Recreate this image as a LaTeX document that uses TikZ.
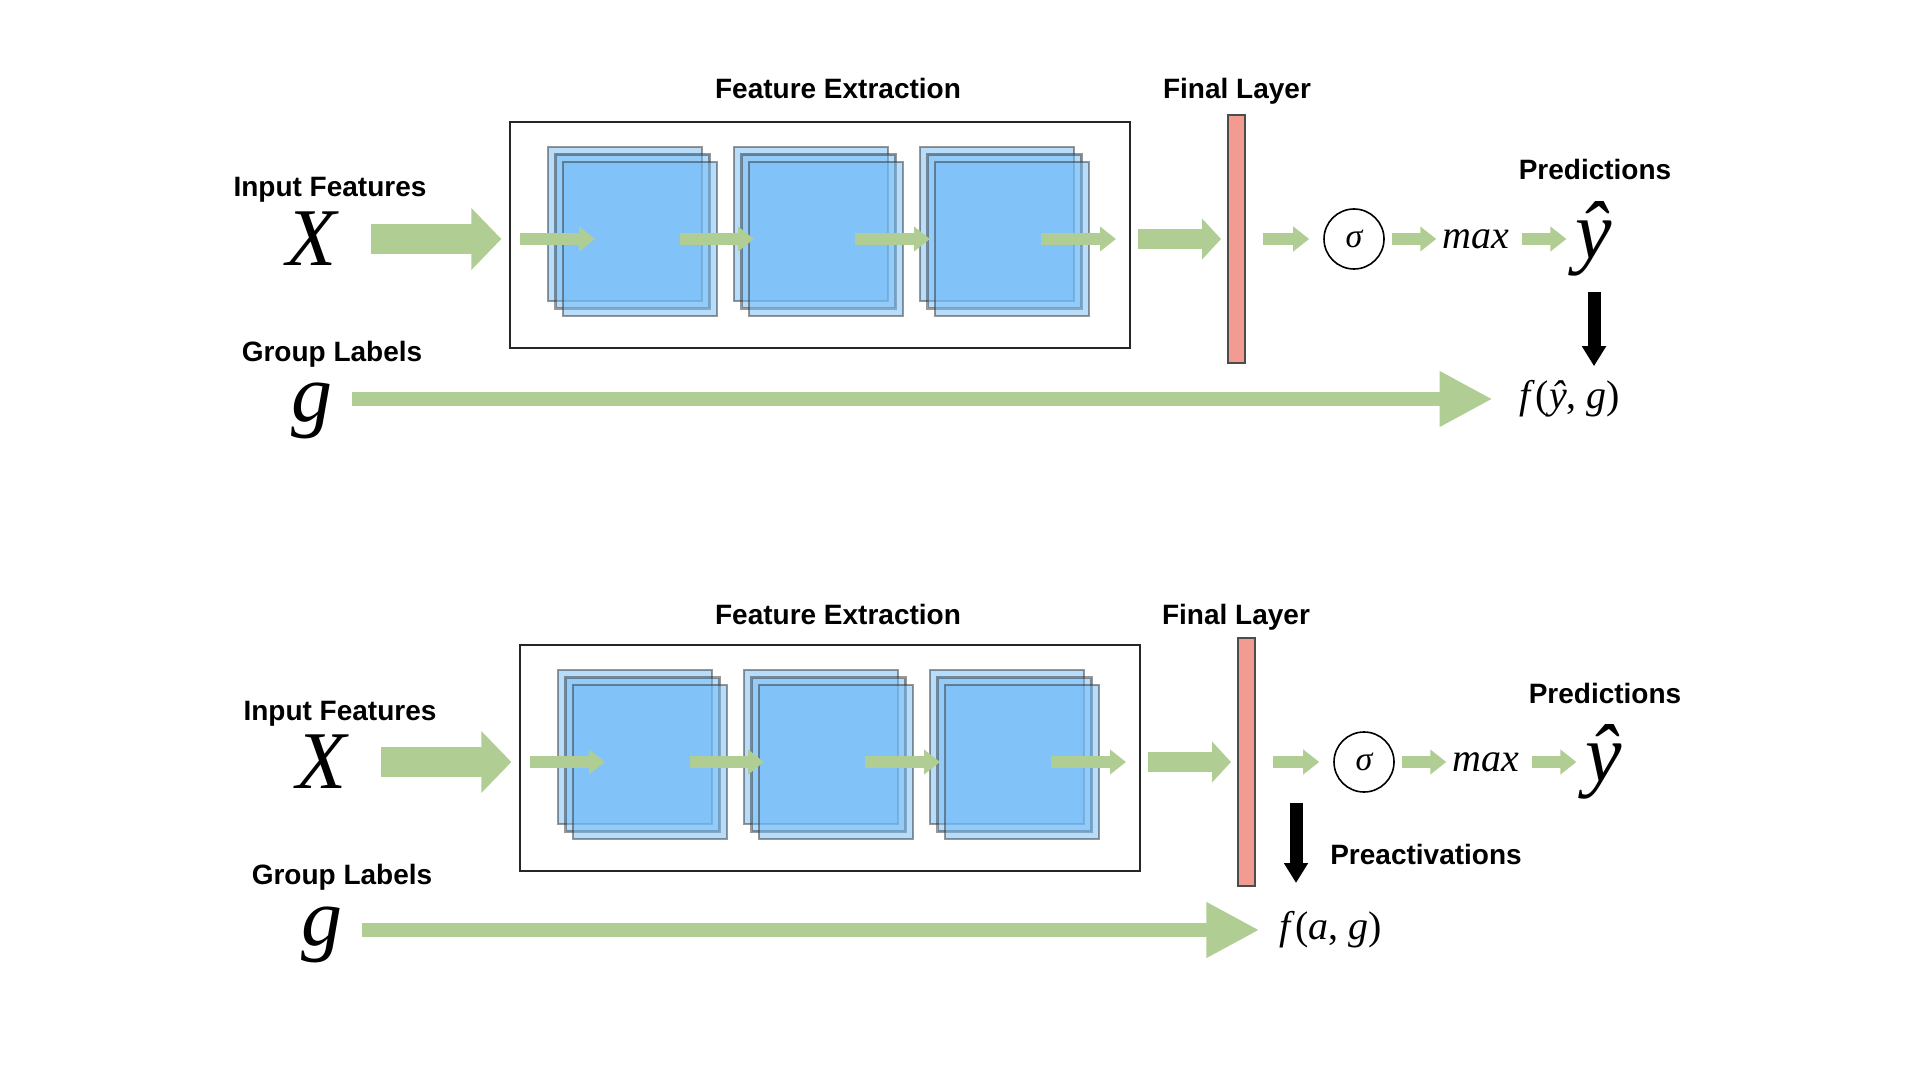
\documentclass[tikz,border=0pt]{standalone}
\usepackage{fontspec}
\setmainfont{Liberation Sans}
\newfontfamily\timesfont{Liberation Serif}
\usetikzlibrary{arrows.meta}

\definecolor{arrowgreen}{RGB}{176,206,148}
\definecolor{mapblue}{RGB}{111,187,247}
\definecolor{layerred}{RGB}{241,155,145}

\begin{document}
\begin{tikzpicture}[x=0.5pt, y=-0.5pt]
    \tikzstyle{heading}=[font=\bfseries\fontsize{14}{16}\selectfont, anchor=base]
    \tikzstyle{bigmath}=[font=\timesfont\itshape\fontsize{41}{45}\selectfont, inner sep=0pt]
    \tikzstyle{math}=[font=\timesfont\fontsize{20}{24}\selectfont, inner sep=0pt]
    \tikzstyle{fbox}=[draw=black!85, line width=0.6pt, minimum width=310pt, minimum height=113pt]
    \tikzstyle{fmap}=[draw=black!80, fill=mapblue, opacity=0.5, line width=1.2pt, minimum size=77pt, inner sep=0pt]
    \tikzstyle{layer}=[draw=black!70, fill=layerred, line width=1pt, minimum width=8.5pt, minimum height=124pt, inner sep=0pt]
    \tikzstyle{sigmanode}=[circle, draw, line width=0.8pt, minimum size=30pt, inner sep=0pt, font=\timesfont\itshape\fontsize{17}{20}\selectfont]
    \tikzstyle{smallarrow}=[arrowgreen, line width=6pt, -{Triangle[length=8pt,width=12pt]}]
    \tikzstyle{inarrow}=[arrowgreen, line width=15pt, -{Triangle[length=15pt,width=30pt]}]
    \tikzstyle{midarrow}=[arrowgreen, line width=10pt, -{Triangle[length=9.5pt,width=20pt]}]
    \tikzstyle{longarrow}=[arrowgreen, line width=7pt, -{Triangle[length=26.5pt,width=26pt]}]
    \tikzstyle{blackarrow}=[black, line width=6.5pt, -{Triangle[length=10pt,width=11.5pt]}]

    \useasboundingbox (0,0) rectangle (1920,1080);

    % top: loss on predictions
    \node[heading] (fetitle) at (838,99) {Feature Extraction};
    \node[fbox] (fe) at (820,235) {};
    \node[fmap] (s1a) at (625,224) {};
    \node[fmap] (s1b) at (632.5,231.5) {};
    \node[fmap] (s1c) at (640,239) {};
    \node[fmap] (s2a) at (811,224) {};
    \node[fmap] (s2b) at (818.5,231.5) {};
    \node[fmap] (s2c) at (826,239) {};
    \node[fmap] (s3a) at (997,224) {};
    \node[fmap] (s3b) at (1004.5,231.5) {};
    \node[fmap] (s3c) at (1012,239) {};

    \node[heading] (inF) at (330,197) {Input Features};
    \node[bigmath] (X) at (312,239) {X};
    \node[heading] (grpL) at (332,362) {Group Labels};
    \node[bigmath] (g) at (312,411) {g};

    \node[heading] (finL) at (1237,99) {Final Layer};
    \node[layer] (bar) at (1236.5,239) {};
    \node[sigmanode] (sig) at (1354,239) {σ};
    \node[math, right of=sig, node distance=61pt] (max) {\textit{max}};
    \node[bigmath, right of=max, node distance=59pt] (yhat) {ŷ};
    \node[heading] (pred) at (1595,180) {Predictions};
    \node[math] (fout) at (1570,399) {\textit{f}(\textit{ŷ}, \textit{g})};

    \coordinate (a1) at (520,239);
    \coordinate (a1e) at (595,239);
    \coordinate (a2) at (680,239);
    \coordinate (a2e) at (754,239);
    \coordinate (a3) at (855,239);
    \coordinate (a3e) at (930,239);
    \coordinate (a4) at (1041,239);
    \coordinate (a4e) at (1116,239);

    \draw[smallarrow] (a1) -- (a1e);
    \draw[smallarrow] (a2) -- (a2e);
    \draw[smallarrow] (a3) -- (a3e);
    \draw[smallarrow] (a4) -- (a4e);
    \draw[inarrow, shorten <=17pt, shorten >=4pt] (X.east) -- (X.east -| fe.west);
    \draw[midarrow, shorten <=3.5pt, shorten >=3pt] (fe.east |- bar) -- (bar.west);
    \draw[smallarrow, shorten <=8.5pt, shorten >=7pt] (bar.east) -- (sig.west);
    \draw[smallarrow, shorten <=3.5pt, shorten >=3pt] (sig) -- (max);
    \draw[smallarrow, shorten <=6pt, shorten >=4.5pt] (max) -- (yhat);
    \draw[blackarrow, shorten <=7.5pt, shorten >=7pt] (yhat) -- (yhat |- fout.north);
    \draw[longarrow, shorten <=9.5pt, shorten >=13.5pt] (g.east |- fout) -- (fout.west);

    % bottom: loss on preactivations
    \begin{scope}[shift={(10,523)}]
    \node[heading] (fetitle2) at (828,101) {Feature Extraction};
    \node[fbox] (fe2) at (820,235) {};
    \node[fmap] (t1a) at (625,224) {};
    \node[fmap] (t1b) at (632.5,231.5) {};
    \node[fmap] (t1c) at (640,239) {};
    \node[fmap] (t2a) at (811,224) {};
    \node[fmap] (t2b) at (818.5,231.5) {};
    \node[fmap] (t2c) at (826,239) {};
    \node[fmap] (t3a) at (997,224) {};
    \node[fmap] (t3b) at (1004.5,231.5) {};
    \node[fmap] (t3c) at (1012,239) {};

    \node[heading] (inF2) at (330,197) {Input Features};
    \node[bigmath] (X2) at (312,239) {X};
    \node[heading] (grpL2) at (332,361) {Group Labels};
    \node[bigmath] (g2) at (312,412) {g};

    \node[heading] (finL2) at (1226,101) {Final Layer};
    \node[layer] (bar2) at (1236.5,239) {};
    \node[sigmanode] (sig2) at (1354,239) {σ};
    \node[math, right of=sig2, node distance=61pt] (max2) {\textit{max}};
    \node[bigmath, right of=max2, node distance=59pt] (yhat2) {ŷ};
    \node[heading] (pred2) at (1595,180) {Predictions};
    \node[heading] (preact) at (1416,341) {Preactivations};
    \node[math] (fag) at (1321,407) {\textit{f}(\textit{a}, \textit{g})};

    \coordinate (b1) at (520,239);
    \coordinate (b1e) at (595,239);
    \coordinate (b2) at (680,239);
    \coordinate (b2e) at (754,239);
    \coordinate (b3) at (855,239);
    \coordinate (b3e) at (930,239);
    \coordinate (b4) at (1041,239);
    \coordinate (b4e) at (1116,239);
    \coordinate (pa) at (1286,280);
    \coordinate (pae) at (1286,360);

    \draw[smallarrow] (b1) -- (b1e);
    \draw[smallarrow] (b2) -- (b2e);
    \draw[smallarrow] (b3) -- (b3e);
    \draw[smallarrow] (b4) -- (b4e);
    \draw[inarrow, shorten <=17pt, shorten >=4pt] (X2.east) -- (X2.east -| fe2.west);
    \draw[midarrow, shorten <=3.5pt, shorten >=3pt] (fe2.east |- bar2) -- (bar2.west);
    \draw[smallarrow, shorten <=8.5pt, shorten >=7pt] (bar2.east) -- (sig2.west);
    \draw[smallarrow, shorten <=3.5pt, shorten >=3pt] (sig2) -- (max2);
    \draw[smallarrow, shorten <=6pt, shorten >=4.5pt] (max2) -- (yhat2);
    \draw[blackarrow] (pa) -- (pae);
    \draw[longarrow, shorten <=9.5pt, shorten >=10pt] (g2.east |- fag) -- (fag.west);
    \end{scope}
\end{tikzpicture}
\end{document}
